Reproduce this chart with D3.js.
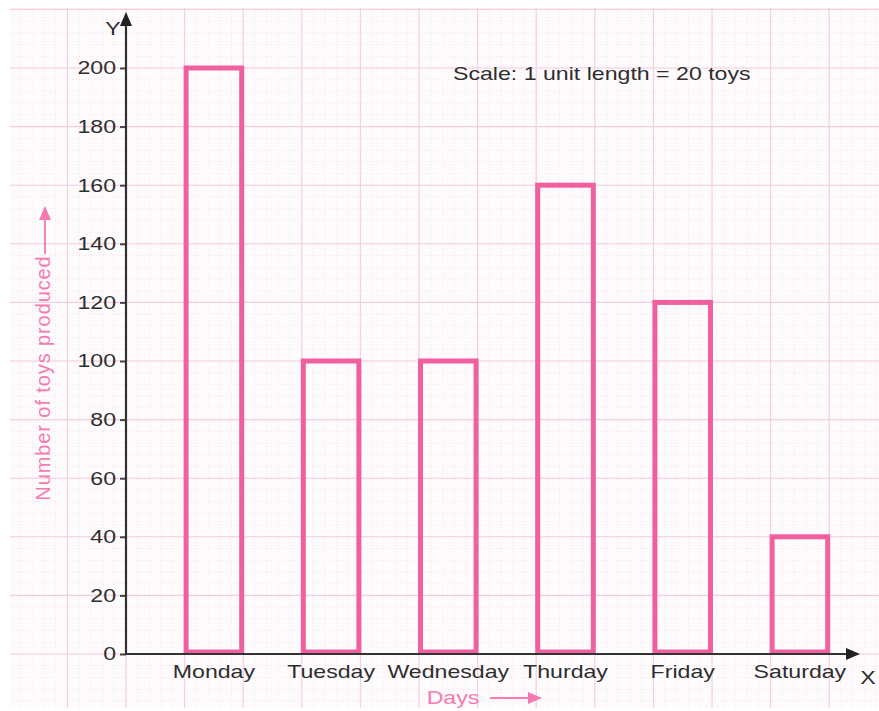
<!DOCTYPE html>
<html><head><meta charset="utf-8">
<script src="https://cdn.jsdelivr.net/npm/d3@7"></script>
<style>body{margin:0;background:#fff}svg{display:block}text{font-family:"Liberation Sans",Arial,sans-serif}</style>
</head><body>
<script>
const days = ["Monday","Tuesday","Wednesday","Thurday","Friday","Saturday"];
const toys = [200,100,100,160,120,40];
const yTicks = [0,20,40,60,80,100,120,140,160,180,200];
const scaleNote = "Scale: 1 unit length = 20 toys";

const W = 879, H = 711;
const x0 = 126, y0 = 654, yTop = 68;
const cell = (y0 - yTop) / 10;
const FS = 18.5, SX = 1.25;

const svg = d3.select("body").append("svg").attr("width", W).attr("height", H);

const y = d3.scaleLinear().domain([0,200]).range([y0, yTop]);
const x = d3.scaleBand().domain(days).range([x0, x0 + 13*cell]).paddingInner(0.5).paddingOuter(0.5);

// paper
const paper = {l:10, t:8, r:W, b:708};
svg.append("rect").attr("x",paper.l).attr("y",paper.t).attr("width",paper.r-paper.l).attr("height",paper.b-paper.t).attr("fill","#fefbfd");
const g = svg.append("g");
const minor = cell/5;
for (let v = x0 - Math.floor((x0-paper.l)/minor)*minor; v <= paper.r; v += minor) {
  g.append("line").attr("x1",v).attr("x2",v).attr("y1",paper.t).attr("y2",paper.b).attr("stroke","#f3dbe7").attr("stroke-width",0.7).attr("stroke-dasharray","1,2");
}
for (let v = y0 + Math.floor((paper.b-y0)/minor)*minor; v >= paper.t; v -= minor) {
  g.append("line").attr("y1",v).attr("y2",v).attr("x1",paper.l).attr("x2",paper.r).attr("stroke","#f3dbe7").attr("stroke-width",0.7).attr("stroke-dasharray","1,2");
}
for (let v = x0 - Math.floor((x0-paper.l)/cell)*cell; v <= paper.r; v += cell) {
  g.append("line").attr("x1",v).attr("x2",v).attr("y1",paper.t).attr("y2",paper.b).attr("stroke","#f4cde0").attr("stroke-width",1.1);
}
for (let v = y0 + Math.floor((paper.b-y0)/cell)*cell; v >= paper.t; v -= cell) {
  g.append("line").attr("y1",v).attr("y2",v).attr("x1",paper.l).attr("x2",paper.r).attr("stroke","#f4cde0").attr("stroke-width",1.1);
}

// bars
svg.selectAll("rect.bar").data(days).join("rect").attr("class","bar")
  .attr("x", d => x(d) + 1.5).attr("width", x.bandwidth() - 3)
  .attr("y", (d,i) => y(toys[i])).attr("height", (d,i) => y0 - y(toys[i]) - 2)
  .attr("fill","none").attr("stroke","#f0609e").attr("stroke-width",5);

// y axis
const yAxis = d3.axisLeft(y).tickValues(yTicks).tickSize(6).tickPadding(4);
const ya = svg.append("g").attr("transform",`translate(${x0},0)`).call(yAxis);
ya.select(".domain").remove();
ya.selectAll(".tick line").attr("stroke","#444").attr("stroke-width",2);
ya.selectAll(".tick text").attr("font-size",FS).attr("fill","#2e2e2e").attr("font-family","Liberation Sans, Arial, sans-serif")
  .attr("x", -10/SX).attr("transform",`scale(${SX},1)`);

// x axis labels
const xAxis = d3.axisBottom(x).tickSize(0).tickPadding(11);
const xa = svg.append("g").attr("transform",`translate(0,${y0})`).call(xAxis);
xa.select(".domain").remove();
xa.selectAll(".tick text").attr("font-size",FS).attr("fill","#2e2e2e").attr("font-family","Liberation Sans, Arial, sans-serif")
  .attr("transform",`scale(${SX},1)`);

function label(tx, ty, str, anchor, color) {
  return svg.append("text").attr("transform",`translate(${tx},${ty}) scale(${SX},1)`)
    .attr("text-anchor",anchor).attr("font-size",FS).attr("fill",color).text(str);
}

// axis lines with arrows
svg.append("line").attr("x1",x0).attr("x2",x0).attr("y1",y0+1).attr("y2",22).attr("stroke","#333").attr("stroke-width",2.2);
svg.append("path").attr("d",`M${x0-6},26 L${x0},12 L${x0+6},26 Z`).attr("fill","#222");
svg.append("line").attr("x1",x0-1).attr("x2",850).attr("y1",y0).attr("y2",y0).attr("stroke","#333").attr("stroke-width",2.2);
svg.append("path").attr("d",`M846,${y0-6} L860,${y0} L846,${y0+6} Z`).attr("fill","#222");
label(113, 35, "Y", "middle", "#2e2e2e");
label(868, 684, "X", "middle", "#2e2e2e");

// scale note
label(453, 80, scaleNote, "start", "#2e2e2e");

// x title
label(453, 704, "Days", "middle", "#f57ab2");
svg.append("line").attr("x1",490).attr("x2",533).attr("y1",698).attr("y2",698).attr("stroke","#f57ab2").attr("stroke-width",1.8);
svg.append("path").attr("d","M528,692 L542,698 L528,704 Z").attr("fill","#f57ab2");

// y title
const yt = svg.append("g").attr("transform","translate(50,378) rotate(-90)");
yt.append("text").attr("x",0).attr("y",0).attr("text-anchor","middle").attr("font-size",20).attr("letter-spacing","0.9px").attr("fill","#f57ab2").text("Number of toys produced");
yt.append("line").attr("x1",124).attr("x2",162).attr("y1",-5).attr("y2",-5).attr("stroke","#f57ab2").attr("stroke-width",1.8);
yt.append("path").attr("d","M158,-11 L172,-5 L158,1 Z").attr("fill","#f57ab2");
</script>
</body></html>
